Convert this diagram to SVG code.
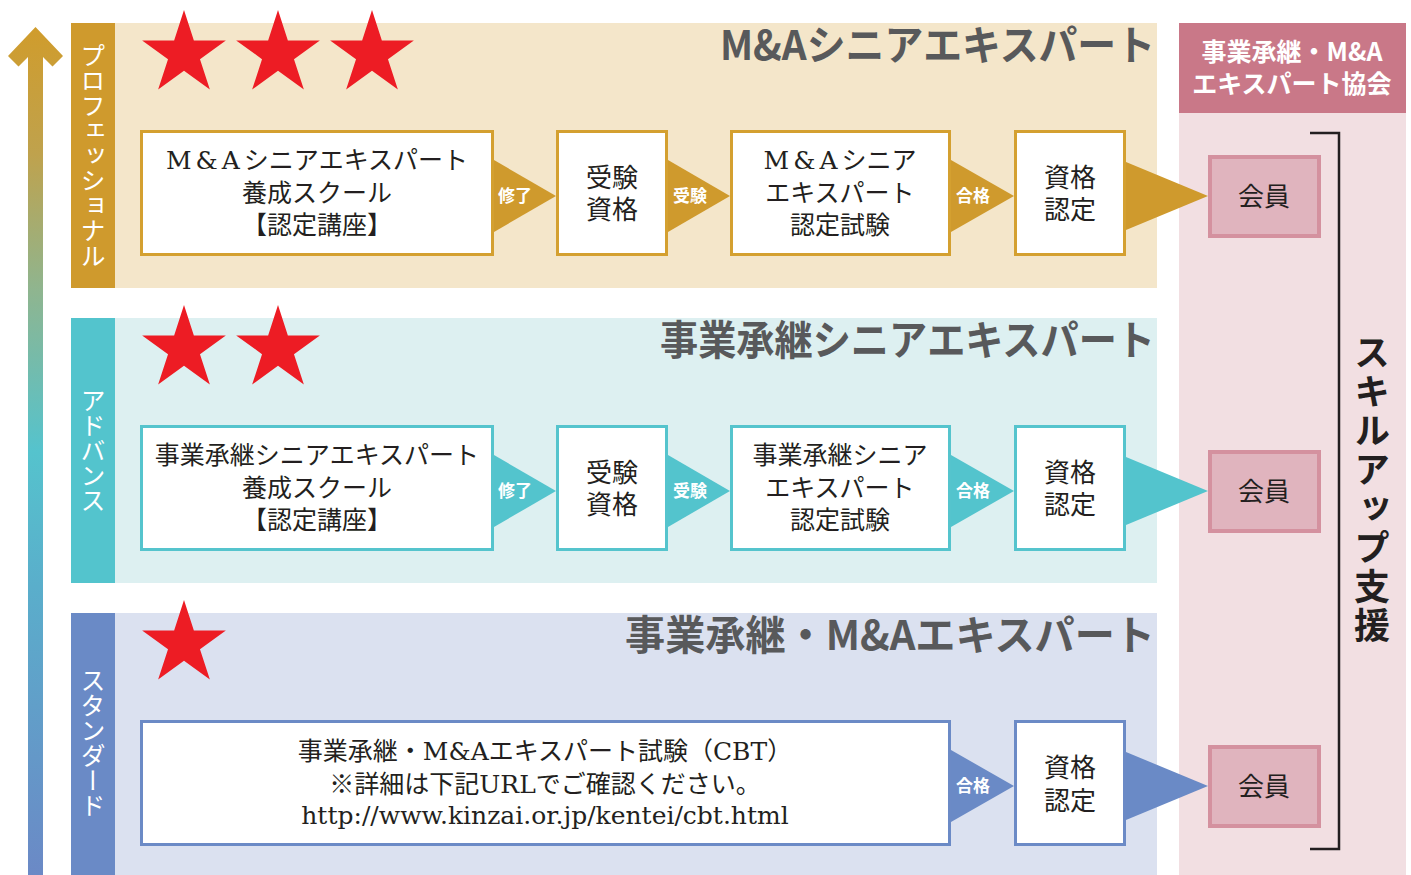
<svg xmlns="http://www.w3.org/2000/svg" width="1411" height="875" viewBox="0 0 1411 875">
<defs>
<linearGradient id="upGrad" gradientUnits="userSpaceOnUse" x1="0" y1="27" x2="0" y2="875">
<stop offset="0" stop-color="#d09c2c"/>
<stop offset="0.15" stop-color="#bfa24d"/>
<stop offset="0.31" stop-color="#8fb58f"/>
<stop offset="0.5" stop-color="#55c3cd"/>
<stop offset="0.66" stop-color="#5aaecb"/>
<stop offset="1" stop-color="#6b89c6"/>
</linearGradient>
<polygon id="star" points="0,-44 9.87,-13.6 41.85,-13.6 15.98,5.19 25.86,35.6 0,16.8 -25.86,35.6 -15.98,5.19 -41.85,-13.6 -9.87,-13.6" fill="#ed1c24"/>
</defs>
<style>
text{font-family:"Noto Sans CJK JP","Noto Sans",sans-serif;}
.box{fill:#ffffff;stroke-width:3;}
.gold{stroke:#d4a030;}
.teal{stroke:#55c4cd;}
.blue{stroke:#6b8ac6;}
.t{font-size:25px;fill:#231f20;text-anchor:middle;}
.t2{font-size:26px;fill:#231f20;text-anchor:middle;}
.lat{font-family:"DejaVu Serif","Liberation Serif",serif;}
.lbl{font-size:17px;font-weight:bold;fill:#ffffff;text-anchor:middle;}
.title{font-size:41px;font-weight:bold;fill:#58595b;}
.vlab{font-size:25px;fill:#ffffff;writing-mode:vertical-rl;text-anchor:middle;}
.mem{fill:#e0b4be;stroke:#d4919f;stroke-width:4;}
</style>

<!-- progress arrow -->
<g id="progress-arrow">
<path d="M35.5,27 L63,56 L52.5,66.5 L43,57 L43,875 L28,875 L28,57 L18.5,66.5 L8,56 Z" fill="url(#upGrad)"/>
</g>

<!-- bands -->
<g id="band-professional">
<rect x="71" y="23" width="1086" height="265" fill="#f4e6ca"/>
<rect x="71" y="23" width="44" height="265" fill="#cf9a2d"/>
<text class="vlab" x="93" y="155">プロフェッショナル</text>
<use href="#star" x="184" y="54"/>
<use href="#star" x="278" y="54"/>
<use href="#star" x="372" y="54"/>
<text class="title" x="720" y="60" textLength="435" lengthAdjust="spacingAndGlyphs">M&amp;Aシニアエキスパート</text>
</g>
<g id="band-advance">
<rect x="71" y="318" width="1086" height="265" fill="#ddf0f1"/>
<rect x="71" y="318" width="44" height="265" fill="#53c4cd"/>
<text class="vlab" x="93" y="450">アドバンス</text>
<use href="#star" x="184" y="349"/>
<use href="#star" x="278" y="349"/>
<text class="title" x="660" y="355" textLength="495" lengthAdjust="spacingAndGlyphs">事業承継シニアエキスパート</text>
</g>
<g id="band-standard">
<rect x="71" y="613" width="1086" height="262" fill="#dbe1f0"/>
<rect x="71" y="613" width="44" height="262" fill="#6a8ac6"/>
<text class="vlab" x="93" y="743">スタンダード</text>
<use href="#star" x="184" y="644"/>
<text class="title" x="625" y="650" textLength="530" lengthAdjust="spacingAndGlyphs">事業承継・M&amp;Aエキスパート</text>
</g>

<!-- association column -->
<g id="association">
<rect x="1179" y="23" width="227" height="852" fill="#f2dfe2"/>
<rect x="1179" y="23" width="227" height="90" fill="#c97888"/>
<text x="1292" y="61" font-size="25" font-weight="bold" fill="#ffffff" text-anchor="middle">事業承継・M&amp;A</text>
<text x="1292" y="93" font-size="25" font-weight="bold" fill="#ffffff" text-anchor="middle">エキスパート協会</text>
<path d="M1310,133 H1339 V849 H1310" fill="none" stroke="#231f20" stroke-width="2.5"/>
<text x="1372" y="490" font-size="36" font-weight="bold" fill="#231f20" text-anchor="middle" letter-spacing="3" style="writing-mode:vertical-rl">スキルアップ支援</text>
</g>

<!-- connectors -->
<g id="connectors">
<polygon points="494,160 494,232 556,196" fill="#cf9a2d"/>
<polygon points="668,160 668,232 730,196" fill="#cf9a2d"/>
<polygon points="951,160 951,232 1014,196" fill="#cf9a2d"/>
<polygon points="1126,162 1126,230 1208,196" fill="#cf9a2d"/>
<text class="lbl" x="515" y="202">修了</text>
<text class="lbl" x="690" y="202">受験</text>
<text class="lbl" x="973" y="202">合格</text>

<polygon points="494,455 494,527 556,491" fill="#53c4cd"/>
<polygon points="668,455 668,527 730,491" fill="#53c4cd"/>
<polygon points="951,455 951,527 1014,491" fill="#53c4cd"/>
<polygon points="1126,457 1126,525 1208,491" fill="#53c4cd"/>
<text class="lbl" x="515" y="497">修了</text>
<text class="lbl" x="690" y="497">受験</text>
<text class="lbl" x="973" y="497">合格</text>

<polygon points="951,750 951,822 1014,786" fill="#6a8ac6"/>
<polygon points="1126,752 1126,820 1208,786" fill="#6a8ac6"/>
<text class="lbl" x="973" y="792">合格</text>
</g>

<!-- row 1 nodes -->
<g id="p-school">
<rect class="box gold" x="141.5" y="131.5" width="351" height="123"/>
<text class="t" x="317" y="169"><tspan class="lat" letter-spacing="4">M&amp;A</tspan>シニアエキスパート</text>
<text class="t" x="317" y="202">養成スクール</text>
<text class="t" x="317" y="234">【認定講座】</text>
</g>
<g id="p-eligibility">
<rect class="box gold" x="557.5" y="131.5" width="109" height="123"/>
<text class="t2" x="612" y="187">受験</text>
<text class="t2" x="612" y="219">資格</text>
</g>
<g id="p-exam">
<rect class="box gold" x="731.5" y="131.5" width="218" height="123"/>
<text class="t" x="840" y="169"><tspan class="lat" letter-spacing="4">M&amp;A</tspan>シニア</text>
<text class="t" x="840" y="202">エキスパート</text>
<text class="t" x="840" y="234">認定試験</text>
</g>
<g id="p-cert">
<rect class="box gold" x="1015.5" y="131.5" width="109" height="123"/>
<text class="t2" x="1070" y="187">資格</text>
<text class="t2" x="1070" y="219">認定</text>
</g>
<g id="p-member">
<rect class="mem" x="1210" y="157" width="109" height="79"/>
<text class="t2" x="1264" y="206">会員</text>
</g>

<!-- row 2 nodes -->
<g id="a-school">
<rect class="box teal" x="141.5" y="426.5" width="351" height="123"/>
<text class="t" x="317" y="464">事業承継シニアエキスパート</text>
<text class="t" x="317" y="497">養成スクール</text>
<text class="t" x="317" y="529">【認定講座】</text>
</g>
<g id="a-eligibility">
<rect class="box teal" x="557.5" y="426.5" width="109" height="123"/>
<text class="t2" x="612" y="482">受験</text>
<text class="t2" x="612" y="514">資格</text>
</g>
<g id="a-exam">
<rect class="box teal" x="731.5" y="426.5" width="218" height="123"/>
<text class="t" x="840" y="464">事業承継シニア</text>
<text class="t" x="840" y="497">エキスパート</text>
<text class="t" x="840" y="529">認定試験</text>
</g>
<g id="a-cert">
<rect class="box teal" x="1015.5" y="426.5" width="109" height="123"/>
<text class="t2" x="1070" y="482">資格</text>
<text class="t2" x="1070" y="514">認定</text>
</g>
<g id="a-member">
<rect class="mem" x="1210" y="452" width="109" height="79"/>
<text class="t2" x="1264" y="501">会員</text>
</g>

<!-- row 3 nodes -->
<g id="s-exam">
<rect class="box blue" x="141.5" y="721.5" width="808" height="123"/>
<text class="t" x="545" y="760">事業承継・<tspan class="lat">M&amp;A</tspan>エキスパート試験（<tspan class="lat">CBT</tspan>）</text>
<text class="t" x="545" y="793">※詳細は下記<tspan class="lat">URL</tspan>でご確認ください。</text>
<text class="t lat" x="545" y="824">http://www.kinzai.or.jp/kentei/cbt.html</text>
</g>
<g id="s-cert">
<rect class="box blue" x="1015.5" y="721.5" width="109" height="123"/>
<text class="t2" x="1070" y="777">資格</text>
<text class="t2" x="1070" y="810">認定</text>
</g>
<g id="s-member">
<rect class="mem" x="1210" y="747" width="109" height="79"/>
<text class="t2" x="1264" y="796">会員</text>
</g>
</svg>
